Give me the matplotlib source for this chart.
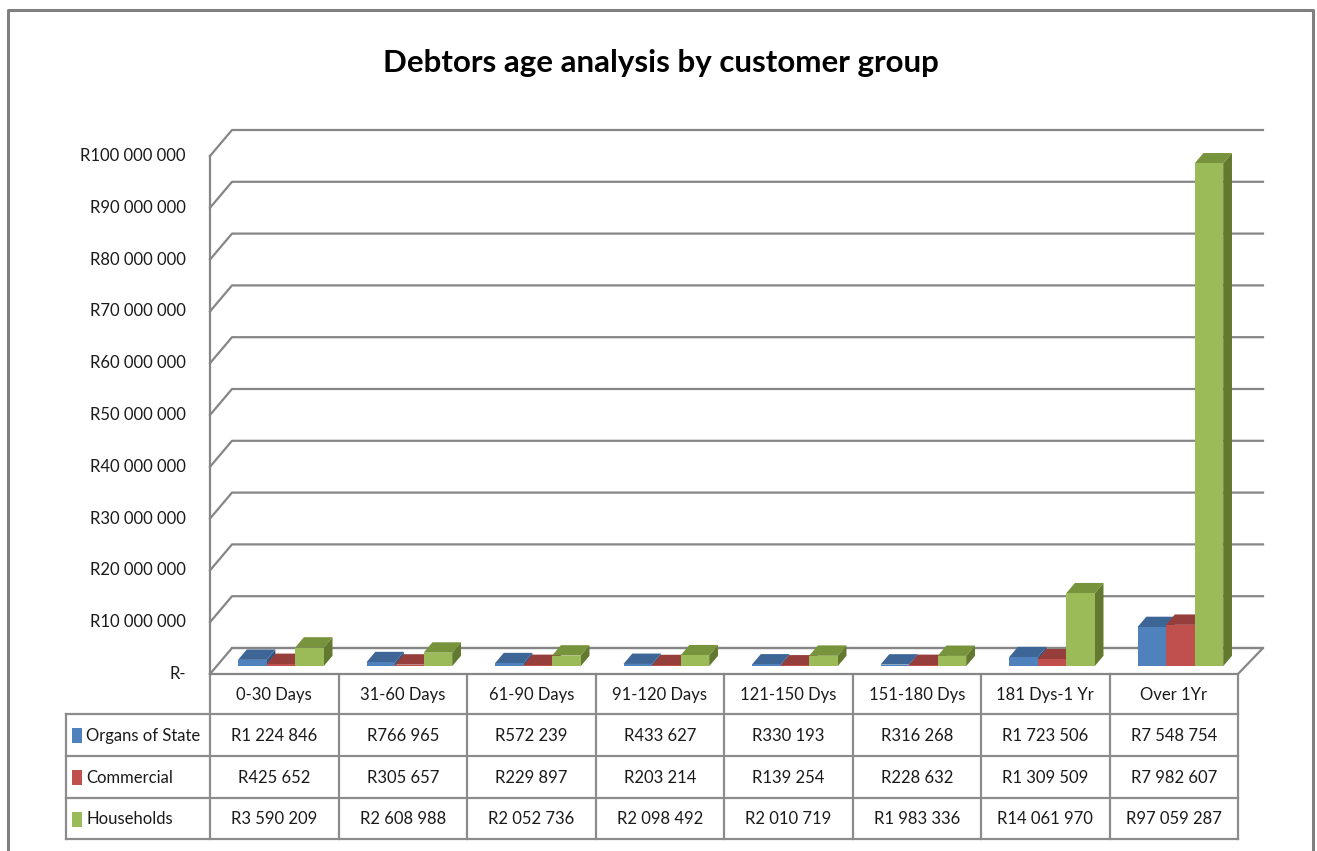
import matplotlib
matplotlib.use("Agg")
import matplotlib.pyplot as plt
from matplotlib.patches import Polygon, Rectangle

# Data
categories = ["0-30 Days", "31-60 Days", "61-90 Days", "91-120 Days",
              "121-150 Dys", "151-180 Dys", "181 Dys-1 Yr", "Over 1Yr"]
series_names = ["Organs of State", "Commercial", "Households"]
organs_of_state = [1224846, 766965, 572239, 433627, 330193, 316268, 1723506, 7548754]
commercial = [425652, 305657, 229897, 203214, 139254, 228632, 1309509, 7982607]
households = [3590209, 2608988, 2052736, 2098492, 2010719, 1983336, 14061970, 97059287]
y_ticks = [0, 10e6, 20e6, 30e6, 40e6, 50e6, 60e6, 70e6, 80e6, 90e6, 100e6]

series = [organs_of_state, commercial, households]
# front, top, side colours
colors = [("#4F81BD", "#3D6696", "#335480"),
          ("#C0504D", "#963E3B", "#7F3230"),
          ("#9BBB59", "#77933C", "#62792F")]

plt.rcParams["font.family"] = ["Lato", "DejaVu Sans"]
FS = 12

W, H = 1317, 851
fig = plt.figure(figsize=(W / 100, H / 100), dpi=100)

# overlay axes in pixel coordinates for frame / table
ov = fig.add_axes([0, 0, 1, 1])
ov.set_xlim(0, W)
ov.set_ylim(H, 0)
ov.axis("off")

# data axes: front plane x 210..1238 px, y 674 (0) .. 156 (100M) px
x0, x1, yb, yt = 210, 1238, 674, 156
ax = fig.add_axes([x0 / W, (H - yb) / H, (x1 - x0) / W, (yb - yt) / H])
ax.set_xlim(0, len(categories))
ax.set_ylim(0, 100e6)
ax.axis("off")

px_per_cat = (x1 - x0) / len(categories)
px_per_val = (yb - yt) / 100e6
dx = 22 / px_per_cat      # depth offset in category units
dy = 26 / px_per_val      # depth offset in value units
right = len(categories) + 25 / px_per_cat

grid_c = "#868686"
# gridlines on back wall + diagonal on left wall
for t in y_ticks:
    ax.plot([0, dx, right], [t, t + dy, t + dy], color=grid_c, lw=1.6,
            clip_on=False, zorder=1)
    label = "R-" if t == 0 else "R" + f"{int(t):,}".replace(",", " ")
    ax.text(-24 / px_per_cat, t, label, ha="right", va="center",
            fontsize=FS, color="#1a1a1a", clip_on=False)
# front vertical axis
ax.plot([0, 0], [0, 100e6], color=grid_c, lw=1.6, clip_on=False, zorder=1)
# floor
ax.plot([0, len(categories), right, dx], [0, 0, dy, dy], color=grid_c,
        lw=1.6, clip_on=False, zorder=1)

# bars
bw = 1 / 4.5
gap = 0.75 * bw
f0, f1 = 0.30, 0.70
z = 2
for i in range(len(categories)):
    for j, vals in enumerate(series):
        v = vals[i]
        xl = i + gap + j * bw + f0 * dx
        xr = xl + bw
        yb0 = f0 * dy
        ytp = yb0 + v
        ddx = (f1 - f0) * dx
        ddy = (f1 - f0) * dy
        front, top, side = colors[j]
        ax.add_patch(Polygon([(xr, yb0), (xr + ddx, yb0 + ddy),
                              (xr + ddx, ytp + ddy), (xr, ytp)],
                             closed=True, fc=side, ec="none", zorder=z, clip_on=False))
        ax.add_patch(Polygon([(xl, ytp), (xl + ddx, ytp + ddy),
                              (xr + ddx, ytp + ddy), (xr, ytp)],
                             closed=True, fc=top, ec="none", zorder=z, clip_on=False))
        ax.add_patch(Rectangle((xl, yb0), bw, v, fc=front, ec="none",
                               zorder=z, clip_on=False))
        z += 1

# title
ov.text(661, 63, "Debtors age analysis by customer group", ha="center",
        va="center", fontsize=22.5, fontweight="bold", color="black")

# outer frame
ov.plot([8, 8, 1313, 1313], [H + 5, 10, 10, H + 5], color="#808080", lw=2.2)

# data table
tc = "#8C8C8C"
row_y = [674, 714, 756, 798, 839]
col_x = [x0 + k * px_per_cat for k in range(len(categories) + 1)]
for k, cx in enumerate(col_x):
    ov.plot([cx, cx], [row_y[0], row_y[-1]], color=tc, lw=1.6)
ov.plot([66, 66], [row_y[1], row_y[-1]], color=tc, lw=1.6)
for ry in row_y[1:]:
    ov.plot([66, col_x[-1]], [ry, ry], color=tc, lw=1.6)

for k, cat in enumerate(categories):
    cx = (col_x[k] + col_x[k + 1]) / 2
    ov.text(cx, (row_y[0] + row_y[1]) / 2 + 1, cat, ha="center", va="center",
            fontsize=FS, color="#1a1a1a")
    for r, vals in enumerate(series):
        txt = "R" + f"{vals[k]:,}".replace(",", " ")
        ov.text(cx, (row_y[r + 1] + row_y[r + 2]) / 2 + 1, txt, ha="center",
                va="center", fontsize=FS, color="#1a1a1a")

for r, name in enumerate(series_names):
    cy = (row_y[r + 1] + row_y[r + 2]) / 2
    ov.add_patch(Rectangle((72, cy - 7), 10, 15, fc=colors[r][0], ec="none"))
    ov.text(86, cy + 1, name, ha="left", va="center", fontsize=FS,
            color="#1a1a1a")

fig.savefig("out.png", dpi=100, facecolor="white")
